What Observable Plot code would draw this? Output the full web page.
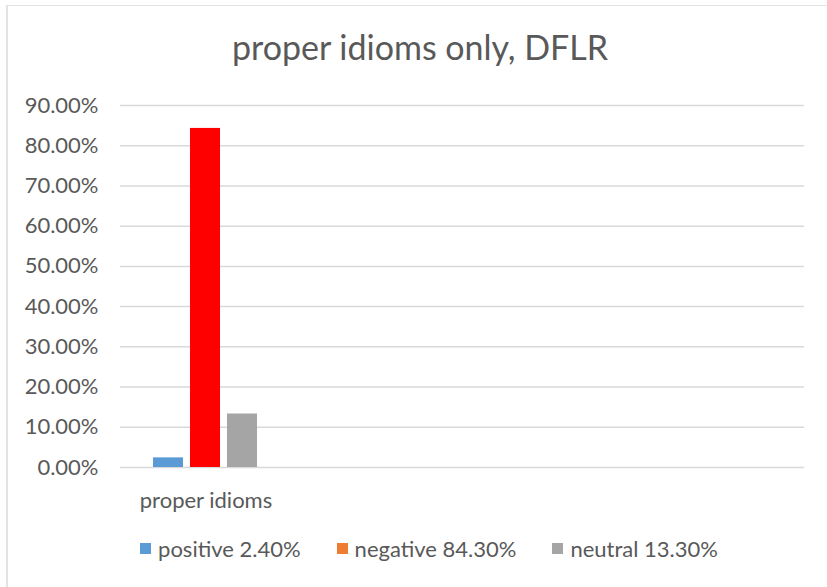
<!DOCTYPE html>
<html>
<head>
<meta charset="utf-8">
<script src="https://cdn.jsdelivr.net/npm/d3@7"></script>
<script src="https://cdn.jsdelivr.net/npm/@observablehq/plot@0.6"></script>
<style>
  html, body { margin: 0; padding: 0; background: #fff; }
  body { width: 827px; height: 587px; overflow: hidden; position: relative; font-family: Lato, "Open Sans", sans-serif; color: #595959; }
  #frame { position: absolute; left: 6px; top: 5px; width: 900px; height: 700px; border-left: 2px solid #e3e3e3; border-top: 1px solid #e3e3e3; }
  #title { position: absolute; left: 0; top: 26px; width: 840px; text-align: center; font-size: 34px; color: #595959; }
  #chart { position: absolute; left: 0; top: 80px; }
  #legend { position: absolute; left: 0; top: 535px; width: 858px; display: flex; justify-content: center; font-size: 22px; color: #595959; }
  .item { display: flex; align-items: center; margin: 0 18px; }
  .sw { width: 11px; height: 11px; margin-right: 7px; }
</style>
</head>
<body>
<div id="frame"></div>
<div id="title"></div>
<div id="chart"></div>
<div id="legend"></div>
<script>
const titleText = "proper idioms only, DFLR";
const categories = ["proper idioms"];
const emptySlots = ["slot2", "slot3", "slot4"];
const series = ["positive", "negative", "neutral"];
const values = [0.024, 0.843, 0.133];
const barColors = ["#5B9BD5", "#FF0000", "#A5A5A5"];
const legendColors = ["#5B9BD5", "#ED7D31", "#A5A5A5"];
const yTicks = [0, 0.1, 0.2, 0.3, 0.4, 0.5, 0.6, 0.7, 0.8, 0.9];

const slots = [...categories, ...emptySlots];
const data = series.map((s, i) => ({category: categories[0], series: s, value: values[i], color: barColors[i]}));
const gridData = slots.flatMap(slot => yTicks.map(v => ({slot, v})));
const fmt = d3.format(".2%");

document.getElementById("title").textContent = titleText;

const chart = Plot.plot({
  width: 827,
  height: 440,
  marginLeft: 118,
  marginRight: 22,
  marginTop: 25,
  marginBottom: 53,
  style: {fontFamily: "Lato, 'Open Sans', sans-serif", color: "#595959", background: "transparent"},
  fx: {domain: slots, padding: 0, label: null},
  x: {domain: series, paddingInner: 0.18, paddingOuter: 0.9, axis: null},
  y: {domain: [0, 0.9], label: null},
  marks: [
    Plot.ruleY(gridData, {fx: "slot", y: "v", stroke: "#d9d9d9", strokeWidth: 1.5}),
    Plot.barY(data, {fx: "category", x: "series", y: "value", fill: "color"}),
    Plot.axisY({ticks: yTicks, tickFormat: fmt, tickSize: 0, tickPadding: 22, fontSize: 22, label: null}),
    Plot.axisFx({anchor: "bottom", tickSize: 0, tickPadding: 25, fontSize: 22, label: null,
      tickFormat: d => categories.includes(d) ? d : ""})
  ]
});
document.getElementById("chart").appendChild(chart);

const legend = document.getElementById("legend");
series.forEach((s, i) => {
  const item = document.createElement("div");
  item.className = "item";
  const sw = document.createElement("div");
  sw.className = "sw";
  sw.style.background = legendColors[i];
  const label = document.createElement("span");
  label.textContent = `${s} ${fmt(values[i])}`;
  item.appendChild(sw);
  item.appendChild(label);
  legend.appendChild(item);
});
</script>
</body>
</html>
